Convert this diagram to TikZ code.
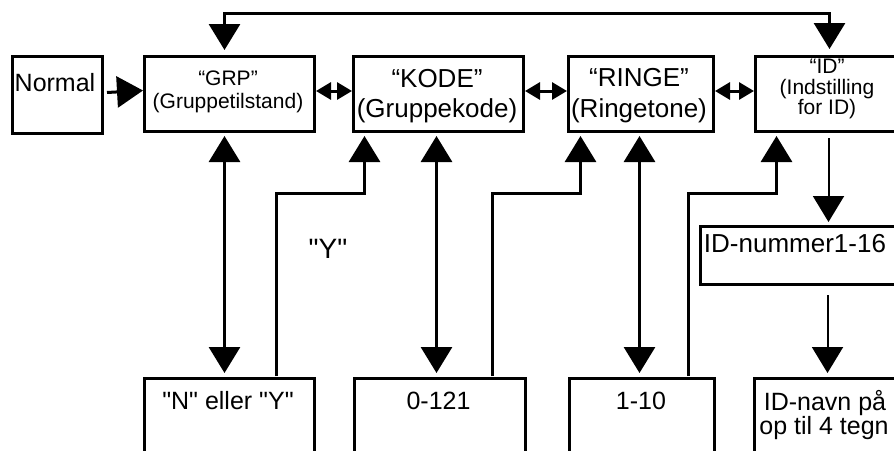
\documentclass[tikz,border=0pt]{standalone}
\usepackage{fontspec}
\setmainfont{Liberation Sans}
\usetikzlibrary{arrows.meta}
\tikzset{
  BigTri/.tip={Triangle[length=26pt,width=31pt]},
  SmTri/.tip={Triangle[length=15pt,width=17pt]},
  box/.style={draw, line width=3pt, inner sep=0pt, anchor=north west, minimum width=#1},
  boxh/.style={minimum height=#1},
  conn/.style={line width=3pt},
  thinconn/.style={line width=2pt},
  fa/.style={font=\fontsize{21}{24}\selectfont, anchor=base, inner sep=0pt},
  fb/.style={font=\fontsize{25}{29}\selectfont, anchor=base, inner sep=0pt},
  fc/.style={font=\fontsize{26}{30}\selectfont, anchor=base, inner sep=0pt},
  fd/.style={font=\fontsize{28}{32}\selectfont, anchor=base, inner sep=0pt},
}
\newcommand{\sq}{\textquotedbl}
\begin{document}
\begin{tikzpicture}[x=1pt,y=1pt]
\useasboundingbox (0,0) rectangle (894,-450);
\clip (0,0) rectangle (894,-450);
% boxes
\node[box=90, boxh=77] (normal) at (11,-55) {};
\node[box=170, boxh=75] (grp) at (143,-55) {};
\node[box=170, boxh=75] (kode) at (352,-55) {};
\node[box=145, boxh=75] (ringe) at (567,-55) {};
\node[box=170, boxh=75] (id) at (754,-55) {};
\node[box=230, boxh=58] (idnum) at (699,-225) {};
\node[box=170, boxh=100] (nbox) at (143,-377) {};
\node[box=171, boxh=100] (bkode) at (353,-377) {};
\node[box=145, boxh=100] (bringe) at (568,-377) {};
\node[box=176, boxh=100] (idnavn) at (753,-377) {};
% texts
\node[fb] (tnormal) at (55,-91) {Normal};
\node[fa] (tgrp1) at (228,-85) {“GRP”};
\node[fa] (tgrp2) at (228,-108) {(Gruppetilstand)};
\node[fc] (tkode1) at (437,-87) {“KODE”};
\node[fc] (tkode2) at (437,-117) {(Gruppekode)};
\node[fc] (tringe1) at (639,-86) {“RINGE”};
\node[fc] (tringe2) at (639,-117) {(Ringetone)};
\node[fa] (tid1) at (827,-73) {“ID”};
\node[fa] (tid2) at (827,-94) {(Indstilling};
\node[fa] (tid3) at (827,-114) {for ID)};
\node[fc] (tidnum) at (795,-252) {ID-nummer1-16};
\node[fb] (tnbox) at (228,-409) {\sq N\sq{} eller \sq Y\sq};
\node[fb] (tbkode) at (438.5,-409) {0-121};
\node[fb] (tbringe) at (641,-409) {1-10};
\node[fb] (tidnavn1) at (825,-410) {ID-navn på};
\node[fb] (tidnavn2) at (824,-434) {op til 4 tegn};
\node[fd] (tY) at (328,-258) {\sq Y\sq};
% connectors
\draw[conn,-BigTri] ([xshift=3pt,yshift=2.5pt]normal.east) -- ([yshift=3.5pt]grp.west);
\draw[conn,SmTri-SmTri] ([yshift=3pt]grp.east) -- ([yshift=3pt]kode.west);
\draw[conn,SmTri-SmTri] ([yshift=3pt]kode.east) -- ([yshift=3pt]ringe.west);
\draw[conn,SmTri-SmTri] ([yshift=3pt]ringe.east) -- ([yshift=3pt]id.west);
\draw[conn,BigTri-BigTri] ([xshift=-5pt,yshift=5pt]grp.north) -- ++(0,37) -| ([xshift=-11pt,yshift=6pt]id.north);
\draw[conn,BigTri-BigTri] ([xshift=-5pt,yshift=-3pt]grp.south) -- ([xshift=-5pt,yshift=4pt]nbox.north);
\draw[conn,-BigTri] ([xshift=47pt,yshift=1pt]nbox.north) -- ++(0,183) -| ([xshift=-74pt,yshift=-3pt]kode.south);
\draw[conn,BigTri-BigTri] ([xshift=-2pt,yshift=-3pt]kode.south) -- ([xshift=-3.5pt,yshift=4pt]bkode.north);
\draw[conn,-BigTri] ([xshift=52.5pt,yshift=1pt]bkode.north) -- ++(0,183) -| ([xshift=-60.5pt,yshift=-3pt]ringe.south);
\draw[conn,BigTri-BigTri] ([xshift=-1.5pt,yshift=-3pt]ringe.south) -- ([xshift=-2.5pt,yshift=4pt]bringe.north);
\draw[conn,-BigTri] ([xshift=46.5pt,yshift=1pt]bringe.north) -- ++(0,183) -| ([xshift=-64pt,yshift=-3pt]id.south);
\draw[thinconn,-BigTri] ([xshift=-12pt,yshift=-5pt]id.south) -- ([xshift=13pt,yshift=3pt]idnum.north);
\draw[thinconn,-BigTri] ([xshift=12pt,yshift=-9pt]idnum.south) -- ([xshift=-15pt,yshift=4pt]idnavn.north);
\end{tikzpicture}
\end{document}
